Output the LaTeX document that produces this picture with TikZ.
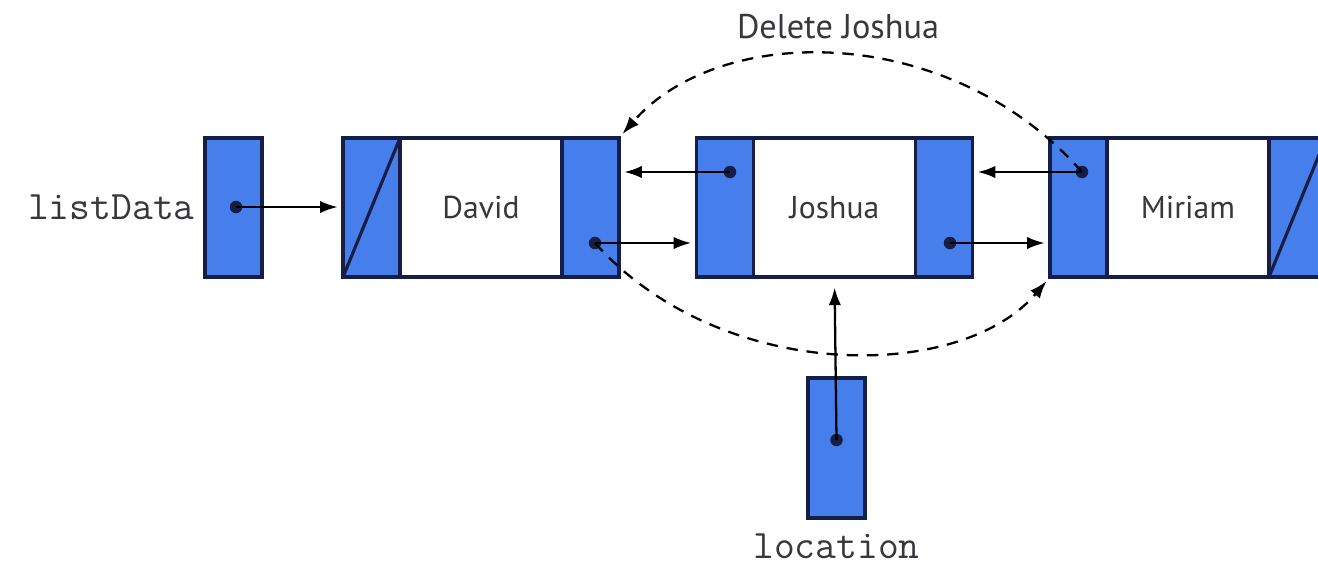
\documentclass[tikz,border=0pt]{standalone}
\usepackage{fontspec}
\setsansfont{PT Sans}
\usetikzlibrary{positioning}
\usetikzlibrary{arrows.meta}
\definecolor{cellblue}{RGB}{70,126,236}
\definecolor{edge}{RGB}{22,30,70}
\definecolor{ink}{RGB}{55,55,60}

\tikzset{
  cell/.style={draw=edge, line width=2.2pt, minimum height=2.78cm, inner sep=0pt, outer sep=0pt},
  ptr/.style={cell, fill=cellblue, minimum width=1.14cm},
  info/.style={cell, fill=white, minimum width=3.24cm, text=ink, font=\sffamily\fontsize{18}{21}\selectfont},
  dot/.style={circle, fill=edge, inner sep=0pt, minimum size=0.25cm},
  link/.style={-{Latex[length=10pt,width=7pt]}, line width=1.3pt, shorten >=3pt},
  bypass/.style={link, dash pattern=on 6.5pt off 5pt},
  varname/.style={text=ink, inner sep=0pt, font=\ttfamily\fontsize{23}{25}\selectfont},
}

\begin{document}
\begin{tikzpicture}[x=0.02cm, y=-0.02cm]
\useasboundingbox (0,0) rectangle (1318,569);

% the external pointer
\node[ptr] (listData) at (233.5,207.5) {};
\node[varname, left=0.2cm of listData] (listLabel) {listData};

% the three list nodes
\node[ptr] (davidL) at (371.5,207.5) {};
\node[info, right=0pt of davidL] (david) {David};
\node[ptr, right=0pt of david] (davidR) {};

\node[ptr] (joshuaL) at (725,207.5) {};
\node[info, right=0pt of joshuaL] (joshua) {Joshua};
\node[ptr, right=0pt of joshua] (joshuaR) {};

\node[ptr] (miriamL) at (1078.5,207.5) {};
\node[info, right=0pt of miriamL] (miriam) {Miriam};
\node[ptr, right=0pt of miriam] (miriamR) {};

% null links
\draw[edge, line width=1.8pt] (davidL.south west) -- (davidL.north east);
\draw[edge, line width=1.8pt] (miriamR.south west) -- (miriamR.north east);

% location pointer
\node[ptr, minimum height=2.8cm] (location) at (836.5,448) {};
\node[varname, below=0.3cm of location] (locLabel) {location};

% pointer dots
\node[dot] (pList) at (236,207) {};
\node[dot] (pDR) at (595,243) {};
\node[dot] (pJL) at (730,172) {};
\node[dot] (pJR) at (950,243) {};
\node[dot] (pML) at (1082,172) {};
\node[dot] (pLoc) at (836.5,440) {};

% links
\draw[link] (pList.center) -- (davidL.west |- pList);
\draw[link] (pDR.center) -- (joshuaL.west |- pDR);
\draw[link] (pJL.center) -- (davidR.east |- pJL);
\draw[link] (pJR.center) -- (miriamL.west |- pJR);
\draw[link] (pML.center) -- (joshuaR.east |- pML);
\draw[link, shorten >=6pt] (pLoc.center) -- (joshua.south);

% the new links that skip Joshua
\draw[bypass] (pML.center) .. controls (950,22) and (720,22) .. (davidR.north east);
\draw[bypass] (pDR.center) .. controls (720,383) and (960,383) .. (miriamL.south west);
\node[text=ink, font=\sffamily\fontsize{19.5}{22}\selectfont] (title) at (838,27) {Delete Joshua};

\end{tikzpicture}
\end{document}
